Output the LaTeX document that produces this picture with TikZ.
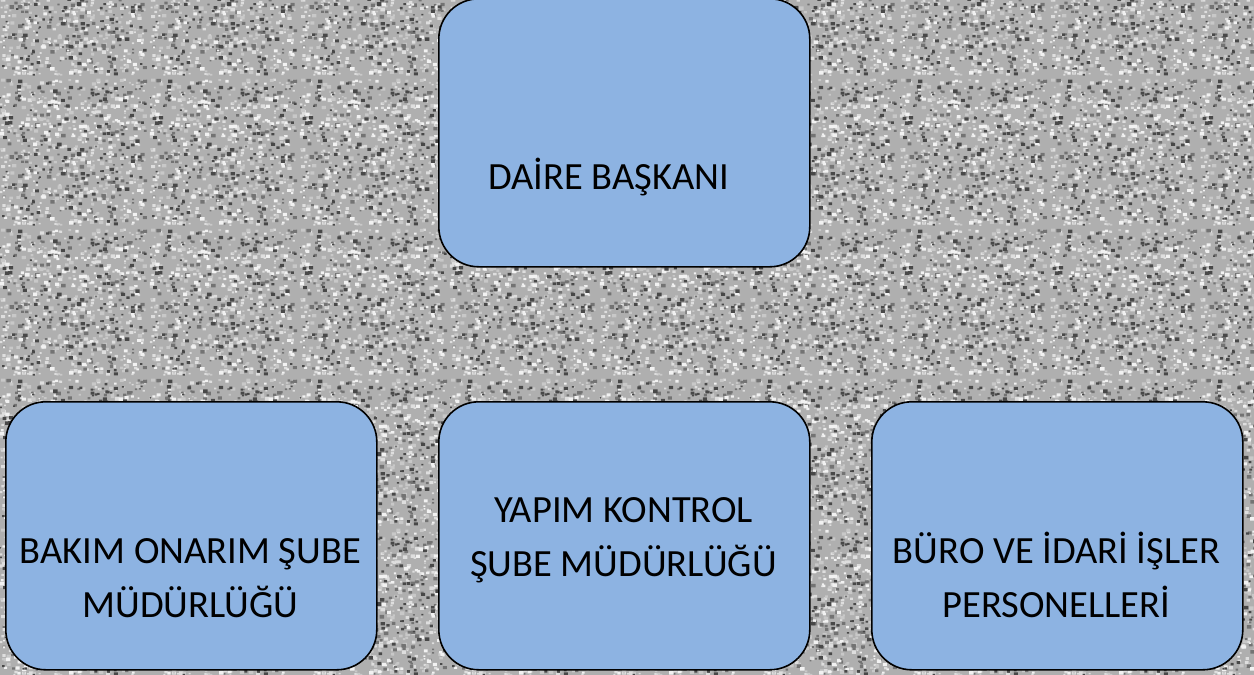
\documentclass[tikz,border=0pt]{standalone}
\usepackage{fontspec}
\usetikzlibrary{patterns}
\setmainfont{Carlito}
\definecolor{boxblue}{RGB}{141,179,226}
\definecolor{bggray}{RGB}{175,175,175}
\definecolor{nA}{RGB}{72,72,72}
\definecolor{nB}{RGB}{115,115,115}
\definecolor{nC}{RGB}{200,200,200}
\definecolor{nD}{RGB}{222,222,222}
\definecolor{nE}{RGB}{242,242,242}
\newcommand\noisedots[2]{%
  \pgfsetfillcolor{#1}%
  \foreach \i in {1,...,#2}{%
    \pgfmathsetmacro\px{rnd*146}%
    \pgfmathsetmacro\py{rnd*146}%
    \pgfmathsetmacro\sz{1.8+rnd*2.8}%
    \pgfpathrectangle{\pgfpoint{\px pt}{\py pt}}{\pgfpoint{\sz pt}{0.8*\sz pt}}%
    \pgfusepath{fill}%
  }%
}
\pgfdeclarepatterninherentlycolored{grainnoise}{\pgfpointorigin}{\pgfpoint{150pt}{150pt}}{\pgfpoint{150pt}{150pt}}{%
  \pgfsetfillcolor{bggray}%
  \pgfpathrectangle{\pgfpointorigin}{\pgfpoint{150pt}{150pt}}%
  \pgfusepath{fill}%
  \pgfmathsetseed{11}%
  \noisedots{nD}{230}%
  \noisedots{nC}{230}%
  \noisedots{nB}{180}%
  \noisedots{nE}{140}%
  \noisedots{nA}{140}%
}
\tikzset{
  orgbox/.style={draw=black, line width=1.6pt, fill=boxblue, rounded corners=40pt,
    minimum width=371pt, minimum height=268pt, inner sep=0pt, anchor=north west},
  lbl/.style={anchor=base, inner sep=0pt, font=\fontsize{38.5}{54}\selectfont, text=black}
}
\begin{document}
\begin{tikzpicture}[x=1pt,y=-1pt]
\useasboundingbox (0,0) rectangle (1254,675);
\fill[bggray] (0,0) rectangle (1254,675);
\fill[pattern=grainnoise] (0,0) rectangle (1254,675);
\node[orgbox] (top) at (438,-2) {};
\node[orgbox] (left) at (5,401) {};
\node[orgbox] (mid) at (438,401) {};
\node[orgbox] (right) at (871,401) {};
\node[lbl, anchor=base west] (ttop) at (488,189) {DAİRE BAŞKANI};
\node[lbl] (tl1) at (190.5,563) {BAKIM ONARIM ŞUBE};
\node[lbl] (tl2) at (190.5,617) {MÜDÜRLÜĞÜ};
\node[lbl] (tm1) at (623.5,522) {YAPIM KONTROL};
\node[lbl] (tm2) at (623.5,576) {ŞUBE MÜDÜRLÜĞÜ};
\node[lbl] (tr1) at (1056.5,563) {BÜRO VE İDARİ İŞLER};
\node[lbl] (tr2) at (1056.5,617) {PERSONELLERİ};
\end{tikzpicture}
\end{document}
